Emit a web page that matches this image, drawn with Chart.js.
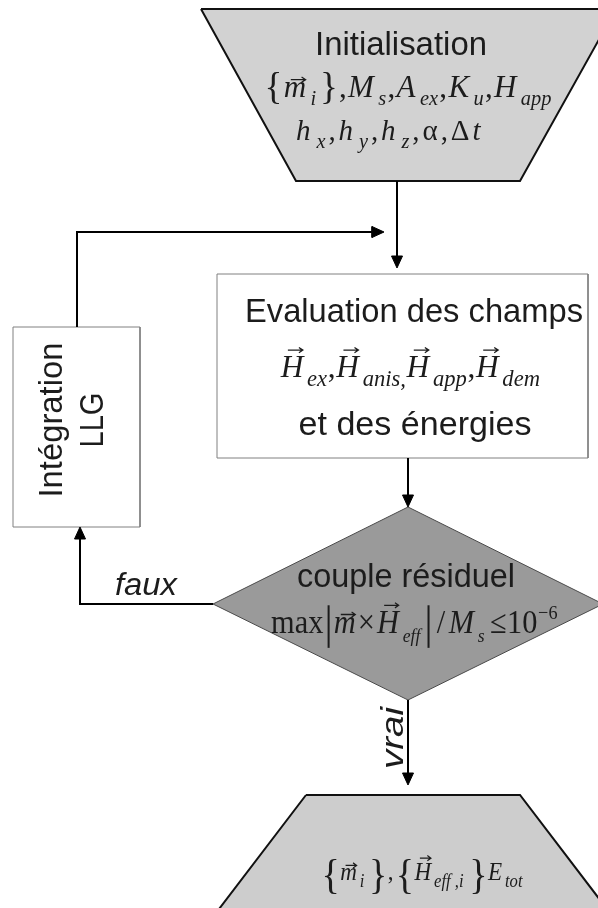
<!DOCTYPE html>
<html>
<head>
<meta charset="utf-8">
<script src="https://cdn.jsdelivr.net/npm/chart.js@4/dist/chart.umd.min.js"></script>
<style>
  body { margin: 0; background: #fff; }
  canvas { display: block; }
</style>
</head>
<body>
<canvas id="flow" width="598" height="908"></canvas>
<script>
// flowchart nodes (vertices in chart units, the axes run 0..598 and 0..908 downwards)
const nodeIds = ['init', 'eval', 'test', 'llg', 'result'];
const nodeX = [[201, 616, 520, 296], [217, 588, 588, 217], [408, 603, 408, 213], [13, 140, 140, 13], [306, 520, 610, 216]];
const nodeY = [[9, 9, 181, 181], [274, 274, 458, 458], [507, 604, 700, 604], [327, 327, 527, 527], [795, 795, 913, 913]];

// connectors, last point is the arrow tip
const edgeX = [[397, 397], [77, 77, 384], [408, 408], [213, 80, 80], [408, 408]];
const edgeY = [[181, 268], [327, 232, 232], [458, 507], [604, 604, 527], [700, 785]];

// plain labels (centre x, baseline y, width)
const labels = ['Initialisation', 'Evaluation des champs', 'et des énergies', 'couple résiduel'];
const labelX = [401, 414, 415, 406];
const labelY = [55, 322, 435, 587];
const labelW = [172, 338, 233, 218];

// branch labels and the rotated box text
const branchLabels = ['faux', 'vrai'];
const branchX = [146, 403];
const branchY = [595, 738];
const branchW = [62, 62];
const llgLabels = ['Intégration', 'LLG'];
const llgX = [62, 103];
const llgY = [420, 420];
const llgW = [155, 55];

// formula lines: [text, kind, gap after in em]
const initMath1 = [['{', 'br'], ['m', 'v'], ['i', 'sub', 0.1], ['}', 'br'], [',', 'r'], ['M', 'i'], ['s', 'sub'], [',', 'r'],
  ['A', 'i'], ['ex', 'sub'], [',', 'r'], ['K', 'i'], ['u', 'sub'], [',', 'r'], ['H', 'i'], ['app', 'sub']];
const initMath2 = [['h', 'i'], ['x', 'sub'], [',', 'r'], ['h', 'i'], ['y', 'sub'], [',', 'r'], ['h', 'i'], ['z', 'sub'], [',', 'r'],
  ['α', 'r'], [',', 'r'], ['Δ', 'r'], ['t', 'i']];
const fieldMath = [['H', 'v'], ['ex', 'sub'], [',', 'r'], ['H', 'v'], ['anis,', 'sub'], ['H', 'v'], ['app', 'sub'], [',', 'r'], ['H', 'v'], ['dem', 'sub']];
const testMath = [['max', 'r'], ['|', 'bar'], ['m', 'v', 0.05], ['×', 'r', 0.05], ['H', 'v'], ['eff', 'sub', 0.1], ['|', 'bar', 0.1], ['/', 'r', 0.1],
  ['M', 'i'], ['s', 'sub', 0.15], ['≤', 'r'], ['10', 'r'], ['−6', 'sup']];
const resultMath = [['{', 'BR'], ['m', 'v'], ['i', 'sub', 0.2], ['}', 'BR'], [',', 'r', 0.1], ['{', 'BR'], ['H', 'v'], ['eff ,i', 'sub', 0.25], ['}', 'BR'], ['E', 'i'], ['tot', 'sub']];
const mathLines = [initMath1, initMath2, fieldMath, testMath, resultMath];
const mathX = [408, 388, 410, 414, 422];
const mathY = [97, 140, 377, 633, 880];
const mathW = [287, 185, 260, 287, 201];
const mathSize = [31, 29, 32, 33, 26];
const subScale = [0.66, 0.7, 0.72, 0.58, 0.72];

const nodeStyle = {
  init: { bg: '#d2d2d2', border: '#111', width: 2 },
  eval: { bg: '#ffffff', border: '#808080', width: 1 },
  test: { bg: '#9a9a9a', border: '#4a4a4a', width: 1 },
  llg: { bg: '#ffffff', border: '#808080', width: 1 },
  result: { bg: '#cdcdcd', border: '#111', width: 2 }
};

const SANS = '"Liberation Sans", Arial, sans-serif';
const SERIF = '"Liberation Serif", "Times New Roman", serif';
const INK = '#1c1c1c';

function pts(xs, ys) {
  return xs.map((x, i) => ({ x, y: ys[i] }));
}

const datasets = [];

// connectors + arrowheads
edgeX.forEach((xs, k) => {
  const ys = edgeY[k];
  const n = xs.length;
  const tx = xs[n - 1], ty = ys[n - 1];
  let dx = tx - xs[n - 2], dy = ty - ys[n - 2];
  const len = Math.hypot(dx, dy);
  dx /= len; dy /= len;
  const bx = tx - dx * 12, by = ty - dy * 12;
  const lx = xs.slice(0, n - 1).concat(bx + dx);
  const ly = ys.slice(0, n - 1).concat(by + dy);
  datasets.push({
    data: pts(lx, ly), showLine: true, borderColor: '#000', borderWidth: 2,
    pointRadius: 0, tension: 0, fill: false, borderJoinStyle: 'miter'
  });
  datasets.push({
    data: pts([bx - dy * 5.5, tx, bx + dy * 5.5, bx - dy * 5.5], [by + dx * 5.5, ty, by - dx * 5.5, by + dx * 5.5]),
    showLine: true, borderColor: '#000', borderWidth: 1, backgroundColor: '#000',
    pointRadius: 0, tension: 0, fill: 'shape'
  });
});

// nodes
nodeIds.forEach((id, k) => {
  const s = nodeStyle[id];
  datasets.push({
    data: pts(nodeX[k].concat(nodeX[k][0]), nodeY[k].concat(nodeY[k][0])),
    showLine: true, fill: 'shape', backgroundColor: s.bg, borderColor: s.border,
    borderWidth: s.width, pointRadius: 0, tension: 0, borderJoinStyle: 'miter'
  });
});

function fitText(ctx, text, x, y, font, width, rotate) {
  ctx.save();
  ctx.font = font;
  const w0 = ctx.measureText(text).width;
  ctx.translate(x, y);
  if (rotate) ctx.rotate(-Math.PI / 2);
  ctx.scale(width / w0, 1);
  ctx.textAlign = 'center';
  ctx.textBaseline = 'alphabetic';
  ctx.fillStyle = INK;
  ctx.fillText(text, 0, 0);
  ctx.restore();
}

function tokenFont(kind, size, ss) {
  if (kind === 'sub') return { font: `italic ${size * ss}px ${SERIF}`, dy: size * 0.27, pre: 0.12 };
  if (kind === 'sup') return { font: `${size * 0.6}px ${SERIF}`, dy: -size * 0.42, pre: 0.02 };
  if (kind === 'br') return { font: `${size * 1.2}px ${SERIF}`, dy: size * 0.07, pre: 0 };
  if (kind === 'BR') return { font: `${size * 1.65}px ${SERIF}`, dy: size * 0.3, pre: 0 };
  if (kind === 'i' || kind === 'v') return { font: `italic ${size}px ${SERIF}`, dy: 0, pre: 0.02 };
  return { font: `${size}px ${SERIF}`, dy: 0, pre: 0.02 };
}

function drawMath(ctx, toks, cx, by, size, width, ss) {
  const items = toks.map(t => {
    const f = tokenFont(t[1], size, ss);
    ctx.font = f.font;
    const w = t[1] === 'bar' ? size * 0.3 : ctx.measureText(t[0]).width;
    return { t: t[0], kind: t[1], f, w, pre: f.pre * size, post: (t[2] || 0) * size };
  });
  const total = items.reduce((s, it) => s + it.pre + it.w + it.post, 0);
  // squeeze when too wide, spread the spacing when too narrow
  const sx = Math.min(1, width / total);
  const spread = total < width ? (width - total) / (items.length - 1) : 0;
  ctx.save();
  ctx.translate(cx - width / 2, by);
  ctx.scale(sx, 1);
  ctx.fillStyle = INK;
  ctx.strokeStyle = INK;
  ctx.textBaseline = 'alphabetic';
  ctx.textAlign = 'left';
  let x = 0;
  items.forEach(it => {
    x += it.pre;
    if (it.kind === 'bar') {
      ctx.lineWidth = 2.2;
      ctx.beginPath();
      ctx.moveTo(x + it.w / 2, -size * 0.84);
      ctx.lineTo(x + it.w / 2, size * 0.45);
      ctx.stroke();
    } else {
      ctx.font = it.f.font;
      ctx.fillText(it.t, x, it.f.dy);
      if (it.kind === 'v') {
        const ay = it.t === 'H' ? -size * 0.84 : -size * 0.56;
        const x0 = x + it.w * 0.32, x1 = x + it.w * 0.98;
        ctx.lineWidth = 1.3;
        ctx.beginPath();
        ctx.moveTo(x0, ay);
        ctx.lineTo(x1, ay);
        ctx.moveTo(x1 - 4, ay - 2.6);
        ctx.lineTo(x1, ay);
        ctx.lineTo(x1 - 4, ay + 2.6);
        ctx.stroke();
      }
    }
    x += it.w + it.post + spread;
  });
  ctx.restore();
}

const textPlugin = {
  id: 'flowText',
  afterDatasetsDraw(chart) {
    const { ctx } = chart;
    const sx = chart.scales.x, sy = chart.scales.y;
    const px = v => sx.getPixelForValue(v);
    const py = v => sy.getPixelForValue(v);
    const wx = w => px(w) - px(0);
    labels.forEach((t, i) => fitText(ctx, t, px(labelX[i]), py(labelY[i]), `33px ${SANS}`, wx(labelW[i]), false));
    branchLabels.forEach((t, i) => fitText(ctx, t, px(branchX[i]), py(branchY[i]), `italic 31px ${SANS}`, wx(branchW[i]), i === 1));
    llgLabels.forEach((t, i) => fitText(ctx, t, px(llgX[i]), py(llgY[i]), `33px ${SANS}`, wx(llgW[i]), true));
    mathLines.forEach((toks, i) => drawMath(ctx, toks, px(mathX[i]), py(mathY[i]), mathSize[i], wx(mathW[i]), subScale[i]));
  }
};

new Chart(document.getElementById('flow'), {
  type: 'scatter',
  data: { datasets },
  options: {
    responsive: false,
    animation: false,
    events: [],
    layout: { padding: 0 },
    plugins: { legend: { display: false }, tooltip: { enabled: false } },
    scales: {
      x: { type: 'linear', min: 0, max: 598, display: false },
      y: { type: 'linear', min: 0, max: 908, reverse: true, display: false }
    }
  },
  plugins: [textPlugin]
});
</script>
</body>
</html>
